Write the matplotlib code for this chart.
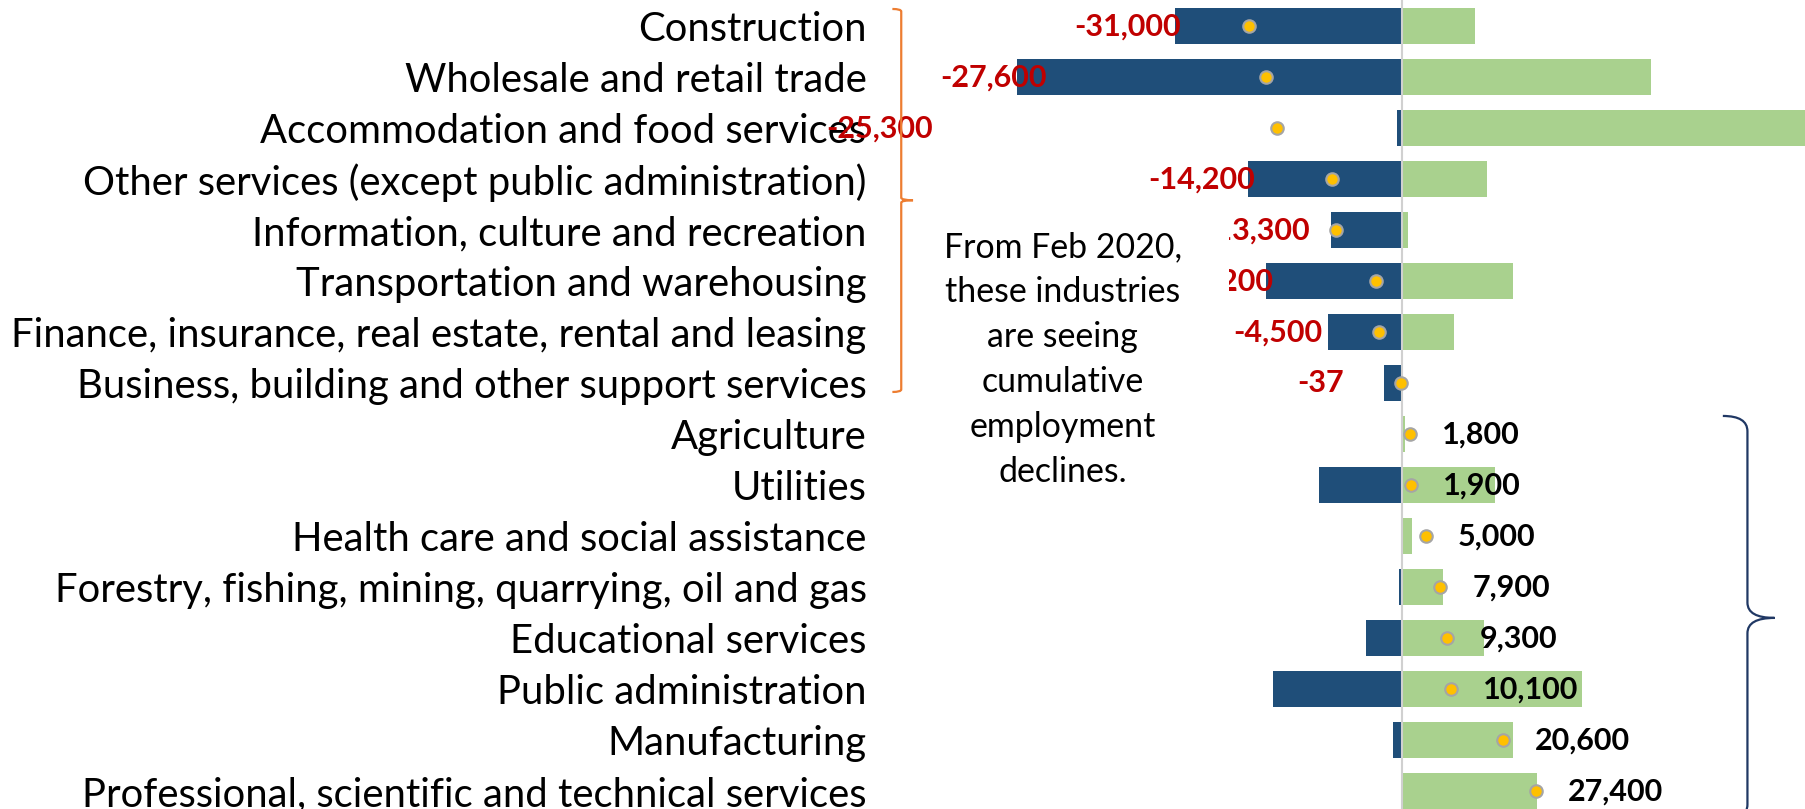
import numpy as np
import matplotlib.pyplot as plt
from matplotlib.path import Path
from matplotlib.patches import PathPatch, Rectangle

industries = [
    "Construction",
    "Wholesale and retail trade",
    "Accommodation and food services",
    "Other services (except public administration)",
    "Information, culture and recreation",
    "Transportation and warehousing",
    "Finance, insurance, real estate, rental and leasing",
    "Business, building and other support services",
    "Agriculture",
    "Utilities",
    "Health care and social assistance",
    "Forestry, fishing, mining, quarrying, oil and gas",
    "Educational services",
    "Public administration",
    "Manufacturing",
    "Professional, scientific and technical services",
]
# early-pandemic change (blue) and recovery since (green)
drop = [-46100, -78200, -1000, -31200, -14400, -27600, -14900, -3600,
        0, -16800, 0, -500, -7200, -26100, -1800, 0]
recovery = [14900, 50700, 120000, 17300, 1300, 22700, 10700, 0,
            600, 19000, 2200, 8500, 16800, 36600, 22700, 27600]
# cumulative change since Feb 2020 (dots)
cumulative = [-31000, -27600, -25300, -14200, -13300, -5200, -4500, -37,
              1800, 1900, 5000, 7900, 9300, 10100, 20600, 27400]

XMIN, XMAX = -100000, 82000
BLUE = "#1F4E79"
GREEN = "#A9D18E"
# hand nudges (px) of the red labels from the end of the blue bar
neg_nudge = [6, 30, 23, 7, -21, 7, -6, -40]

plt.rcParams["font.family"] = ["Lato", "DejaVu Sans"]

fig = plt.figure(figsize=(18.05, 8.09), dpi=100)
ax = fig.add_axes([909.6 / 1805, 0, 1 - 909.6 / 1805, 1])

y = np.arange(len(industries))
ax.barh(y, drop, height=0.706, color=BLUE, zorder=2)
ax.barh(y, recovery, height=0.706, color=GREEN, zorder=2)
ax.axvline(0, color="#D0D0D0", lw=1.5, zorder=3)
ax.plot(cumulative, y, "o", ms=9, mfc="#FFC000", mec="#A5A5A5", mew=1.5,
        ls="none", zorder=6)

for i, v in enumerate(cumulative):
    txt = f"{v:,}"
    if v < 0:
        # red labels sit at the end of the blue bar; the accommodation one
        # is pushed out to the left edge of the plot
        x = XMIN if i == 2 else drop[i]
        ax.annotate(txt, (x, i), xytext=(neg_nudge[i] * 0.72, 0),
                    textcoords="offset points", ha="right", va="center",
                    color="#C00000", fontsize=22, fontweight="bold", zorder=4,
                    annotation_clip=False)
    else:
        ax.annotate(txt, (v, i), xytext=(23, 0), textcoords="offset points",
                    ha="left", va="center", color="black", fontsize=22,
                    fontweight="bold", zorder=4)

# white callout box with note
ax.add_patch(Rectangle((XMIN, 3.5), -35000 - XMIN, 6.1, facecolor="white",
                       edgecolor="none", zorder=5, clip_on=False))
ax.text(-68900, 6.53, "From Feb 2020,\nthese industries\nare seeing\ncumulative\n"
        "employment\ndeclines.", ha="center", va="center", fontsize=24.4,
        linespacing=1.5, zorder=7)


def brace(x_hook, x_line, x_tip, top, mid, bottom, color, r=0.25):
    verts = [(x_hook, top), (x_line, top), (x_line, top + r),
             (x_line, mid - r), (x_line, mid), (x_tip, mid),
             (x_line, mid), (x_line, mid + r),
             (x_line, bottom - r), (x_line, bottom), (x_hook, bottom)]
    codes = [Path.MOVETO, Path.CURVE3, Path.CURVE3,
             Path.LINETO, Path.CURVE3, Path.CURVE3,
             Path.CURVE3, Path.CURVE3,
             Path.LINETO, Path.CURVE3, Path.CURVE3]
    ax.add_patch(PathPatch(Path(verts, codes), fill=False, edgecolor=color,
                           lw=1.6, clip_on=False, zorder=8))


brace(-103500, -101700, -99300, -0.34, 3.41, 7.17, "#ED7D31", r=0.05)
brace(65300, 70300, 75800, 7.64, 11.6, 15.56, "#203864", r=0.3)

ax.set_xlim(XMIN, XMAX)
ax.set_ylim(15.347, -0.516)
ax.set_yticks(y)
ax.set_yticklabels(industries, fontsize=28.8)
ax.tick_params(axis="y", length=0, pad=31)
ax.set_xticks([])
for s in ax.spines.values():
    s.set_visible(False)

fig.savefig("out.png", dpi=100)
